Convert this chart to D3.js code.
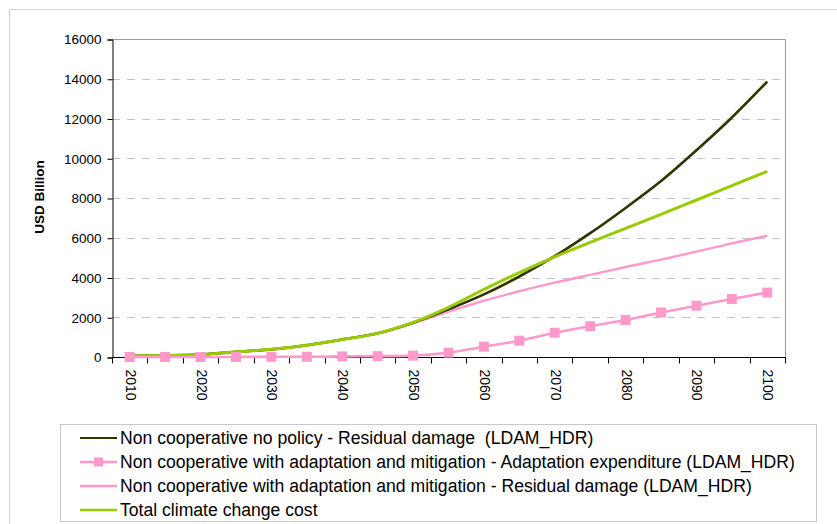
<!DOCTYPE html>
<html>
<head>
<meta charset="utf-8">
<script src="https://cdnjs.cloudflare.com/ajax/libs/d3/7.8.5/d3.min.js"></script>
<style>
  body { margin: 0; background: #fff; }
  text { font-family: "Liberation Sans", Arial, sans-serif; }
</style>
</head>
<body>
<div id="chart_div"></div>
<script>
// data (USD billion)
var years = [2010, 2015, 2020, 2025, 2030, 2035, 2040, 2045, 2050, 2055,
  2060, 2065, 2070, 2075, 2080, 2085, 2090, 2095, 2100];
var noPolicyResidual = [50, 80, 125, 260, 385, 595, 885, 1190, 1720, 2400,
  3150, 4050, 5070, 6230, 7500, 8850, 10400, 12050, 13860];
var adaptExpenditure = [0, 0, 0, 0, 10, 10, 30, 40, 70, 220,
  520, 820, 1220, 1550, 1860, 2240, 2580, 2920, 3240];
var adaptResidual = [50, 80, 125, 260, 385, 595, 880, 1180, 1690, 2280,
  2830, 3310, 3740, 4130, 4530, 4900, 5300, 5720, 6100];
var totalCost = [50, 80, 125, 260, 385, 595, 885, 1190, 1740, 2500,
  3400, 4250, 5040, 5770, 6470, 7180, 7900, 8620, 9340];
var yTicks = [0, 2000, 4000, 6000, 8000, 10000, 12000, 14000, 16000];
var xLabels = [2010, 2020, 2030, 2040, 2050, 2060, 2070, 2080, 2090, 2100];
var seriesNames = [
  'Non cooperative no policy - Residual damage  (LDAM_HDR)',
  'Non cooperative with adaptation and mitigation - Adaptation expenditure (LDAM_HDR)',
  'Non cooperative with adaptation and mitigation - Residual damage (LDAM_HDR)',
  'Total climate change cost'
];

var svg_width = 837,
  svg_height = 524,
  plot_left = 112,
  plot_right = 785,
  plot_top = 39,
  plot_bottom = 357;

var svg = d3.select('#chart_div')
  .append('svg')
  .attr('width', svg_width)
  .attr('height', svg_height);

// outer chart frame (runs off the right and bottom edge)
svg.append('rect')
  .attr('x', 9.5)
  .attr('y', 9.5)
  .attr('width', 900)
  .attr('height', 600)
  .attr('fill', 'none')
  .attr('stroke', '#cfcfcf');

// scales
var x = d3.scaleBand()
  .domain(years)
  .range([plot_left, plot_right]);

var y = d3.scaleLinear()
  .domain([0, 16000])
  .range([plot_bottom, plot_top]);

function cx(d, i) { return x(years[i]) + x.bandwidth() / 2; }

// gridlines
svg.append('g')
  .selectAll('line')
  .data(yTicks.slice(1, -1))
  .enter().append('line')
  .attr('x1', plot_left)
  .attr('x2', plot_right)
  .attr('y1', function (d) { return Math.round(y(d)) + 0.5; })
  .attr('y2', function (d) { return Math.round(y(d)) + 0.5; })
  .attr('stroke', '#c4c4c4')
  .attr('stroke-dasharray', '8,7');

// plot area border (top + right)
svg.append('path')
  .attr('d', 'M' + plot_left + ',' + (plot_top + 0.5) + 'H' + (plot_right + 0.5) + 'V' + plot_bottom)
  .attr('fill', 'none')
  .attr('stroke', '#9a9a9a');

// y axis
var yAxis = svg.append('g')
  .attr('transform', 'translate(' + (plot_left + 0.5) + ',0.5)')
  .call(d3.axisLeft(y).tickValues(yTicks).tickSize(5).tickPadding(6).tickFormat(d3.format('d')));
yAxis.select('.domain').attr('stroke', '#000');
yAxis.selectAll('text')
  .attr('font-size', '13.5px')
  .attr('fill', '#000')
  .style('font-family', '"Liberation Sans", Arial, sans-serif');

// x axis, ticks sit between the categories
var xAxis = svg.append('g')
  .attr('transform', 'translate(0,' + (plot_bottom + 0.5) + ')');
xAxis.append('line')
  .attr('x1', plot_left)
  .attr('x2', plot_right + 1)
  .attr('stroke', '#000');
xAxis.selectAll('.tick')
  .data(years.concat(['end']))
  .enter().append('line')
  .attr('x1', function (d, i) { return Math.round(plot_left + i * x.bandwidth()) + 0.5; })
  .attr('x2', function (d, i) { return Math.round(plot_left + i * x.bandwidth()) + 0.5; })
  .attr('y1', 0)
  .attr('y2', 6)
  .attr('stroke', '#000');
xAxis.selectAll('.lbl')
  .data(xLabels)
  .enter().append('text')
  .attr('transform', function (d) {
    return 'translate(' + (x(d) + x.bandwidth() / 2 - 4) + ',12) rotate(90)';
  })
  .attr('font-size', '14px')
  .attr('fill', '#000')
  .text(function (d) { return d; });

// y axis title
svg.append('text')
  .attr('transform', 'translate(44,197) rotate(-90)')
  .attr('text-anchor', 'middle')
  .attr('font-size', '13.5px')
  .attr('font-weight', 'bold')
  .text('USD Billion');

// lines
var line = d3.line()
  .x(cx)
  .y(function (d) { return y(d); })
  .curve(d3.curveMonotoneX);

var series = [
  { values: noPolicyResidual, color: '#333300', width: 2.6 },
  { values: adaptExpenditure, color: '#ff99cc', width: 2.6, marker: true },
  { values: adaptResidual, color: '#ff99cc', width: 2.4 },
  { values: totalCost, color: '#99cc00', width: 3 }
];

var drawOrder = [2, 0, 3, 1];
drawOrder.forEach(function (k) {
  var s = series[k];
  svg.append('path')
    .attr('d', line(s.values))
    .attr('fill', 'none')
    .attr('stroke', s.color)
    .attr('stroke-width', s.width)
    .attr('stroke-linejoin', 'round');
  if (s.marker) {
    svg.append('g')
      .selectAll('rect')
      .data(s.values)
      .enter().append('rect')
      .attr('x', function (d, i) { return cx(d, i) - 5; })
      .attr('y', function (d) { return y(d) - 5; })
      .attr('width', 10)
      .attr('height', 10)
      .attr('fill', s.color);
  }
});

// legend
var legend = svg.append('g')
  .classed('legend', true);
legend.append('rect')
  .attr('x', 60.5)
  .attr('y', 424.5)
  .attr('width', 756)
  .attr('height', 97)
  .attr('fill', '#fff')
  .attr('stroke', '#c8c8c8');

for (var i = 0; i < series.length; i++) {
  var ly = 438 + i * 24;
  legend.append('line')
    .attr('x1', 80)
    .attr('x2', 117)
    .attr('y1', ly)
    .attr('y2', ly)
    .attr('stroke', series[i].color)
    .attr('stroke-width', i == 0 ? 2 : 2.4);
  if (series[i].marker) {
    legend.append('rect')
      .attr('x', 98.5 - 4.5)
      .attr('y', ly - 4.5)
      .attr('width', 9)
      .attr('height', 9)
      .attr('fill', series[i].color);
  }
  legend.append('text')
    .attr('x', 120)
    .attr('y', ly)
    .attr('dy', '0.36em')
    .attr('font-size', '17.6px')
    .attr('fill', '#000')
    .style('white-space', 'pre')
    .text(seriesNames[i]);
}
</script>
</body>
</html>
